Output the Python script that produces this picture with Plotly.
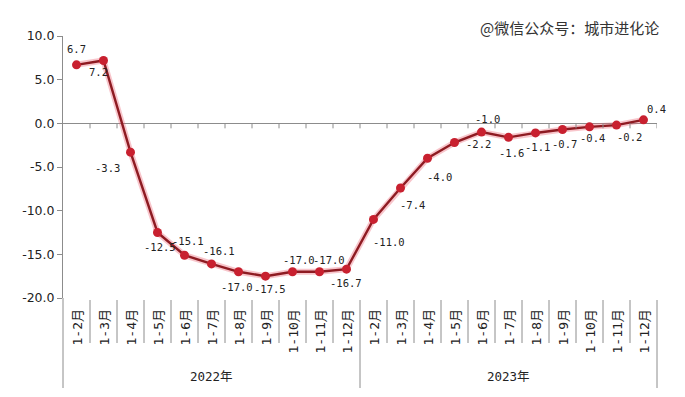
import plotly.graph_objects as go

# ---- data ----
years = ["2022年", "2023年"]
months = ["1-2月", "1-3月", "1-4月", "1-5月", "1-6月", "1-7月",
          "1-8月", "1-9月", "1-10月", "1-11月", "1-12月"]
values = [6.7, 7.2, -3.3, -12.5, -15.1, -16.1, -17.0, -17.5, -17.0, -17.0, -16.7,
          -11.0, -7.4, -4.0, -2.2, -1.0, -1.6, -1.1, -0.7, -0.4, -0.2, 0.4]
y_ticks = [-20, -15, -10, -5, 0, 5, 10]
watermark = "@微信公众号：城市进化论"

# label offsets in pixels (style only)
label_shift = [(0, 16), (-5, -12), (-23, -16), (2, -14), (3, 14), (7, 13),
               (-2, -15), (4, -13), (6, 12), (9, 12), (-1, -14),
               (15, -23), (12, -17), (12, -19), (24, -1), (6, 13),
               (3, -16), (2, -14), (2, -15), (3, -11), (13, -12), (13, 11)]

cats = [f"{y}|{m}" for y in years for m in months]
n = len(cats)

# page body has an 8px margin; size the figure so it fits the window
W, H = 669, 381
ML, MR, MT, MB = 55, 20, 28, 91
plot_h = H - MT - MB
plot_w = W - ML - MR


def py(px_below_bottom):
    """paper y for a pixel distance below the plot bottom"""
    return -px_below_bottom / plot_h


axis_col = "#8c8c8c"
mono = "DejaVu Sans Mono, Noto Sans CJK SC"

fig = go.Figure()
fig.add_trace(go.Scatter(x=cats, y=values, mode="lines",
                         line=dict(color="rgba(235,90,105,0.35)", width=6),
                         hoverinfo="skip", showlegend=False))
fig.add_trace(go.Scatter(x=cats, y=values, mode="lines+markers",
                         line=dict(color="#8E1B22", width=2.4),
                         marker=dict(size=9, color="#C8202F"),
                         showlegend=False))

ann = []
for c, v, (dx, dy) in zip(cats, values, label_shift):
    ann.append(dict(x=c, y=v, xref="x", yref="y", text=f"{v:.1f}",
                    showarrow=False, xshift=dx, yshift=dy,
                    font=dict(family=mono, size=10.5, color="#222")))

# month labels (rotated)
for c in cats:
    m = c.split("|")[1]
    ann.append(dict(x=c, y=py(10), xref="x", yref="paper", text=m,
                    textangle=-90, showarrow=False, xanchor="center", yanchor="top",
                    font=dict(family=mono, size=13, color="#222")))

# year labels
per = len(months)
for k, yr in enumerate(years):
    ann.append(dict(x=k * per + (per - 1) / 2, y=py(78), xref="x", yref="paper",
                    text=yr, showarrow=False, xanchor="center", yanchor="middle",
                    font=dict(family=mono, size=12.5, color="#222")))

ann.append(dict(x=(569 - 63) / plot_w, y=1 + 9 / plot_h, xref="paper", yref="paper",
                text=watermark, showarrow=False, xanchor="center", yanchor="middle",
                font=dict(family="Noto Sans CJK SC", size=15, color="#333")))

shapes = []
# ticks under zero line at band boundaries
for i in range(n):
    shapes.append(dict(type="line", xref="x", yref="y", x0=i + 0.5, x1=i + 0.5,
                       ysizemode="pixel", yanchor=0, y0=0, y1=-5,
                       line=dict(color=axis_col, width=1)))
# month separators
for i in range(1, n):
    long_sep = (i % per == 0)
    shapes.append(dict(type="line", xref="x", yref="paper", x0=i - 0.5, x1=i - 0.5,
                       y0=py(2), y1=py(90 if long_sep else 45),
                       line=dict(color=axis_col, width=1)))
# outer frame lines below plot
shapes.append(dict(type="line", xref="paper", yref="paper", x0=0, x1=0,
                   y0=0, y1=py(90), line=dict(color=axis_col, width=1)))
shapes.append(dict(type="line", xref="paper", yref="paper", x0=1, x1=1,
                   y0=py(2), y1=py(90), line=dict(color=axis_col, width=1)))

fig.update_layout(
    width=W, height=H,
    margin=dict(l=ML, r=MR, t=MT, b=MB, pad=0),
    plot_bgcolor="white", paper_bgcolor="white",
    annotations=ann, shapes=shapes,
    xaxis=dict(type="category", categoryorder="array", categoryarray=cats,
               range=[-0.5, n - 0.5], showticklabels=False, showgrid=False,
               zeroline=False, showline=False, ticks=""),
    yaxis=dict(range=[-20, 10], tickvals=y_ticks,
               ticktext=[f"{v:.1f}" for v in y_ticks],
               showgrid=False, showline=True, linecolor=axis_col, linewidth=1,
               ticks="outside", ticklen=5, tickcolor=axis_col,
               zeroline=True, zerolinecolor=axis_col, zerolinewidth=1,
               tickfont=dict(family="DejaVu Sans", size=12.5, color="#222")),
)

fig.write_html("out.html")
